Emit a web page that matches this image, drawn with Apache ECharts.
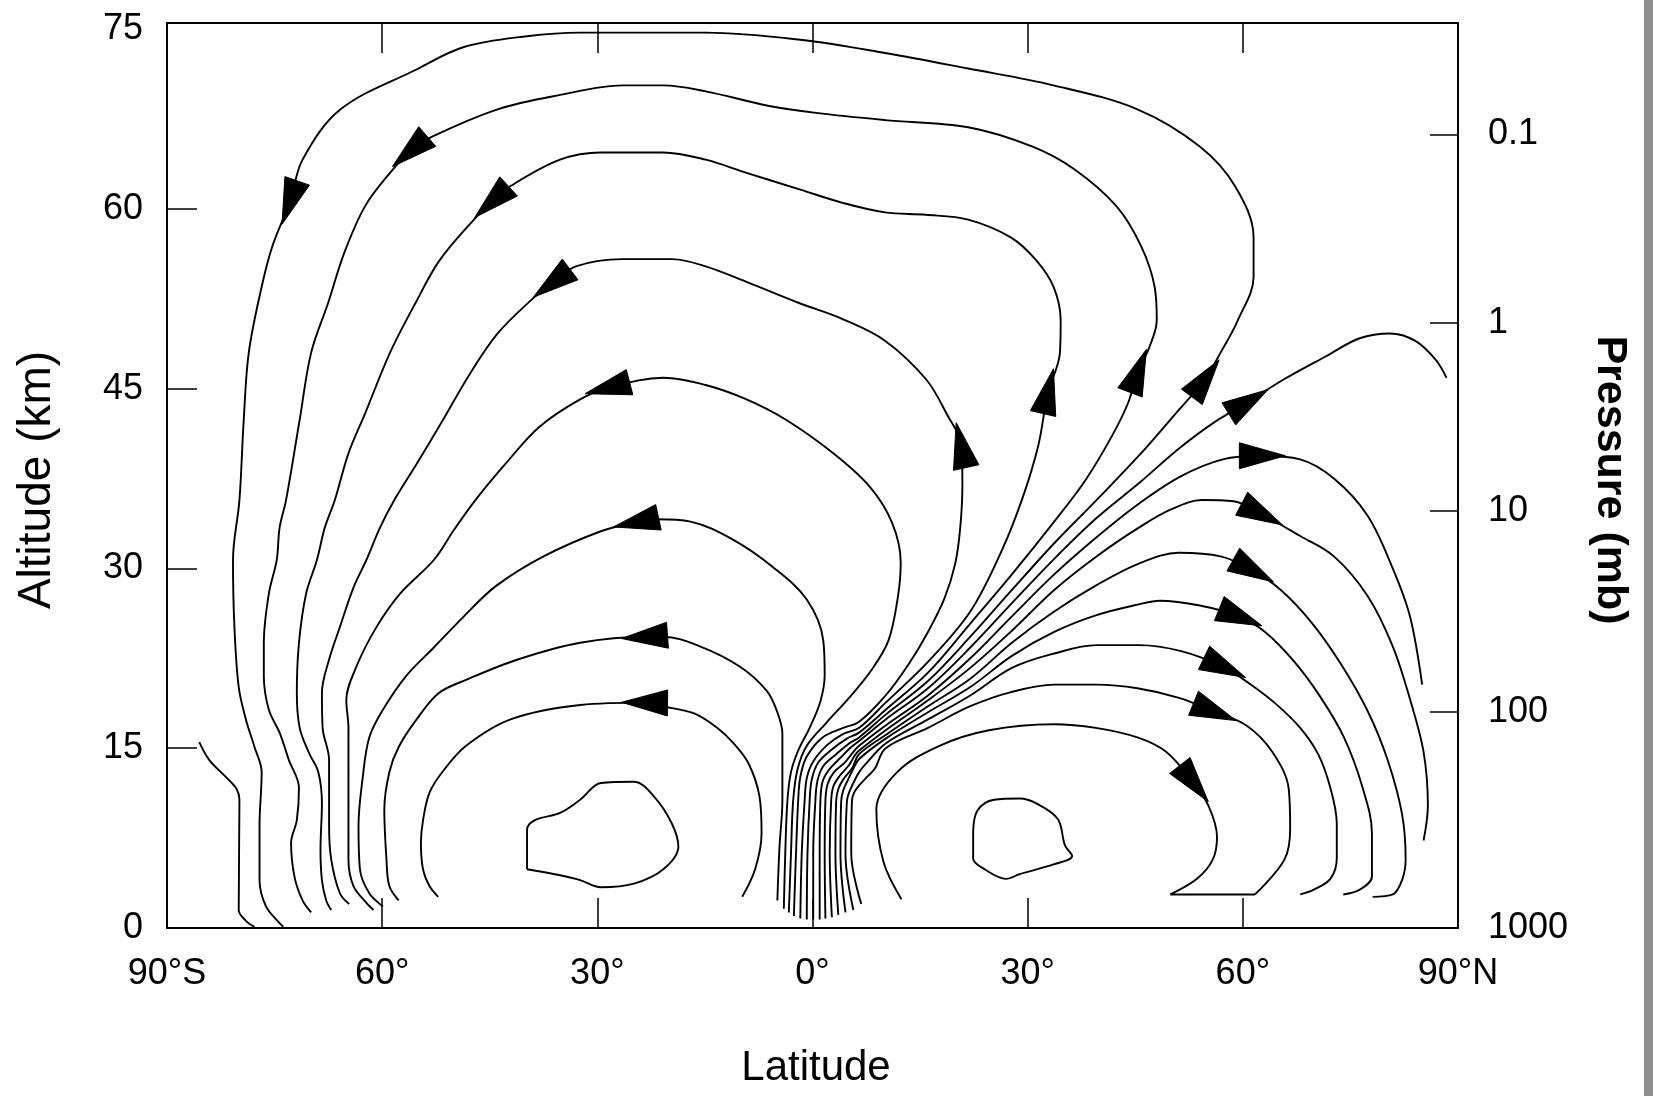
<!DOCTYPE html>
<html><head><meta charset="utf-8">
<script src="https://cdn.jsdelivr.net/npm/echarts/dist/echarts.min.js"></script>
<style>html,body{margin:0;padding:0;background:#fff}#c{width:1653px;height:1096px}</style>
</head><body><div id="c"></div>
<script>
// ---- axis data ----
const latTicks = [-90, -60, -30, 0, 30, 60, 90];
const latLabels = ['90°S', '60°', '30°', '0°', '30°', '60°', '90°N'];
const altTicks = [0, 15, 30, 45, 60, 75];
const altTickMarks = [0, 15, 30, 45, 60];
const pressureAlt = [0, 18.0, 34.8, 50.5, 66.2];
const pressureLabels = ['1000', '100', '10', '1', '0.1'];

// ---- streamlines [latitude, altitude km], in flow order ----
const lineS0 = [[-85.5,15.5],[-84.1,14.0],[-81.8,12.6],[-80.3,11.6],[-79.9,10.7],[-80.0,1.5],[-79.0,0.6],[-77.8,0.1]];
const lineA1 = [[0.1,0.7],[0.1,6.2],[0.4,10.6],[0.7,12.3],[1.5,13.5],[3.3,14.5],[5.1,15.4],[6.5,15.9],[10.2,17.8],[16.1,20.6],[22.0,24.3],[27.8,28.2],[33.7,32.1],[39.6,35.7],[45.5,39.4],[50.6,42.9],[54.6,45.7],[56.9,48.0],[59.3,50.7],[61.5,54.3],[61.5,57.6],[58.9,61.9],[54.0,65.2],[45.3,68.3],[33.6,70.3],[21.7,71.7],[10.1,73.0],[-1.7,74.1],[-14.9,74.7],[-32.4,74.7],[-39.8,74.4],[-48.6,73.5],[-55.3,71.6],[-65.8,68.3],[-71.1,64.1],[-72.8,60.7],[-75.3,56.9],[-76.8,53.5],[-78.6,48.0],[-79.3,42.4],[-79.9,35.7],[-80.8,30.7],[-80.6,25.1],[-80.0,20.1],[-79.0,17.4],[-77.8,15.1],[-76.8,13.0],[-77.1,8.5],[-77.1,4.0],[-76.2,1.8],[-74.3,0.4],[-73.8,0.1]];
const lineA2 = [[-0.8,0.7],[-0.7,6.2],[-0.4,10.6],[-0.1,12.4],[0.8,13.8],[2.7,14.9],[4.8,15.8],[6.5,16.3],[10.2,18.2],[16.1,21.3],[22.0,25.4],[27.8,29.5],[33.7,33.9],[38.1,37.4],[41.8,41.1],[44.0,43.8],[45.3,46.3],[47.0,48.5],[48.0,50.7],[47.7,53.5],[45.8,56.9],[42.4,60.2],[36.5,63.3],[30.6,65.2],[21.7,66.8],[10.1,67.4],[0.5,68.0],[-6.2,68.6],[-14.9,69.8],[-20.8,70.3],[-26.5,70.3],[-35.2,69.5],[-43.9,68.3],[-53.1,66.0],[-55.9,64.9],[-58.9,63.0],[-62.4,60.2],[-65.3,56.3],[-67.5,52.2],[-69.9,48.0],[-71.5,42.4],[-73.4,35.7],[-74.3,33.4],[-74.7,30.7],[-75.8,27.9],[-76.5,23.8],[-76.5,21.0],[-75.8,18.2],[-74.3,16.3],[-73.0,14.0],[-71.6,11.7],[-71.9,9.0],[-72.7,7.1],[-72.2,4.2],[-71.1,2.3],[-69.9,1.3]];
const lineA3 = [[-1.7,0.8],[-1.5,6.2],[-1.1,10.6],[-0.8,12.5],[0.1,13.9],[2.1,15.3],[4.3,16.2],[6.5,16.7],[10.2,18.8],[16.1,22.2],[22.0,26.4],[26.4,31.5],[29.3,35.9],[31.5,40.3],[32.8,44.6],[34.5,48.0],[34.6,50.7],[33.6,53.5],[31.2,55.7],[27.7,57.6],[21.7,59.1],[15.8,59.5],[10.1,59.7],[4.2,60.5],[-1.7,61.6],[-9.2,63.0],[-14.9,64.1],[-20.8,64.7],[-29.5,64.7],[-35.2,64.1],[-42.1,61.9],[-44.5,60.7],[-47.2,59.1],[-52.0,55.7],[-55.3,52.2],[-58.9,48.0],[-62.4,42.9],[-64.7,39.6],[-66.6,35.7],[-68.0,33.4],[-69.1,30.7],[-70.6,27.9],[-71.6,23.8],[-71.9,19.6],[-71.5,16.7],[-70.2,14.6],[-68.9,13.0],[-68.4,10.4],[-68.6,6.5],[-68.4,4.0],[-67.8,2.3],[-67.1,1.5]];
const lineA4 = [[-2.6,1.0],[-2.3,6.2],[-2.0,10.6],[-1.7,12.6],[-0.8,14.3],[1.4,15.9],[4.3,16.7],[6.5,17.2],[10.2,19.4],[13.4,22.0],[16.1,24.7],[18.4,27.5],[19.9,30.4],[20.6,33.4],[20.9,37.0],[20.8,40.1],[18.7,42.9],[15.8,45.8],[10.1,49.0],[4.2,50.8],[-1.7,52.1],[-9.2,53.9],[-14.9,55.2],[-19.6,55.8],[-26.5,55.8],[-33.0,55.2],[-36.1,53.9],[-39.2,52.4],[-43.9,49.6],[-47.8,46.2],[-51.8,42.1],[-55.2,38.7],[-58.3,35.7],[-60.3,33.4],[-62.2,30.7],[-64.0,28.4],[-65.9,25.1],[-67.4,22.4],[-68.4,19.6],[-68.3,16.7],[-67.4,14.0],[-67.4,8.5],[-67.1,5.7],[-65.9,2.9],[-64.6,2.0]];
const lineA5 = [[-3.3,1.3],[-3.0,6.2],[-2.7,10.6],[-2.1,13.2],[-0.8,15.2],[1.9,17.1],[5.1,19.2],[8.2,21.5],[10.6,24.0],[11.9,27.6],[12.3,30.5],[11.1,33.8],[8.0,36.8],[2.9,39.6],[-3.7,42.4],[-9.2,44.1],[-14.9,45.3],[-20.8,45.9],[-28.3,45.1],[-32.4,44.1],[-38.1,41.8],[-42.7,38.8],[-47.0,35.7],[-50.0,33.2],[-52.8,30.7],[-57.5,27.9],[-60.8,25.1],[-63.6,21.8],[-65.0,19.0],[-64.7,16.7],[-64.7,11.3],[-64.7,5.7],[-64.0,3.5],[-62.2,2.1],[-61.2,1.5]];
const lineA6 = [[-4.0,1.6],[-3.8,6.2],[-3.5,10.6],[-3.0,13.0],[-2.0,14.8],[-0.4,16.7],[1.1,18.9],[1.7,21.1],[1.5,24.0],[-0.8,27.4],[-5.5,30.1],[-11.1,32.4],[-17.0,33.9],[-21.7,34.1],[-24.3,33.9],[-29.5,33.1],[-37.5,31.0],[-44.2,28.5],[-48.6,26.0],[-52.8,23.4],[-56.7,21.0],[-59.9,18.2],[-61.8,15.9],[-62.7,12.6],[-63.3,8.5],[-63.1,4.9],[-61.8,2.9],[-59.9,1.8]];
const lineA7 = [[-4.9,2.3],[-4.6,6.8],[-4.2,10.6],[-4.2,14.9],[-4.2,16.2],[-4.9,18.0],[-6.4,19.8],[-10.1,21.8],[-15.7,23.5],[-20.8,24.3],[-23.1,24.3],[-32.4,23.8],[-41.1,22.4],[-48.3,20.7],[-52.1,19.6],[-55.2,17.4],[-57.7,15.1],[-59.0,13.0],[-59.7,9.9],[-59.4,5.7],[-59.0,3.5],[-57.7,2.3]];
const lineA8 = [[-9.8,2.6],[-8.0,4.9],[-7.1,7.9],[-7.4,11.0],[-8.9,13.7],[-11.0,15.4],[-13.3,16.7],[-16.5,17.9],[-20.9,18.5],[-23.1,18.8],[-32.4,18.6],[-42.1,17.4],[-48.3,15.2],[-51.5,13.1],[-53.4,11.3],[-54.3,9.0],[-54.6,7.1],[-54.3,4.9],[-53.4,3.5],[-52.2,2.6]];
const loopSouth = [[-39.8,4.9],[-39.8,8.2],[-38.7,9.0],[-35.2,9.6],[-32.4,10.7],[-29.5,12.1],[-24.9,12.2],[-22.0,10.9],[-19.6,8.7],[-18.7,6.8],[-20.8,4.9],[-24.9,3.7],[-29.5,3.4],[-32.4,4.0],[-35.2,4.4],[-39.8,4.9]];
const loopNorth = [[22.4,8.1],[23.0,9.8],[25.3,10.7],[28.9,10.8],[31.2,10.4],[34.2,9.1],[35.2,6.9],[36.2,6.0],[33.6,5.3],[28.9,4.5],[27.0,4.1],[24.0,4.9],[22.4,5.8],[22.4,8.1]];
const lineB1 = [[1.0,0.7],[1.0,6.2],[1.1,10.6],[1.4,12.2],[2.3,13.2],[3.9,14.2],[5.4,15.1],[6.5,15.6],[10.2,17.4],[16.1,20.0],[22.0,23.4],[27.8,27.1],[33.7,30.8],[39.6,34.2],[45.5,37.1],[51.1,40.0],[55.8,42.1],[60.5,43.8],[65.8,45.8],[71.6,47.7],[76.3,49.2],[80.5,49.6],[84.0,49.0],[86.9,47.4],[88.4,45.9]];
const lineB2 = [[1.8,0.8],[1.7,6.2],[1.8,10.6],[2.1,12.0],[3.0,13.0],[4.5,13.8],[5.7,14.7],[6.5,15.2],[10.2,16.9],[16.1,19.4],[22.0,22.5],[27.8,26.0],[33.7,29.5],[39.6,32.6],[45.5,35.4],[51.4,37.7],[57.2,39.1],[62.4,39.4],[68.0,39.1],[72.7,37.5],[77.4,34.4],[80.9,30.0],[83.3,26.0],[85.0,20.3]];
const lineB3 = [[2.7,0.9],[2.4,6.2],[2.6,10.6],[2.9,11.8],[3.8,12.7],[5.1,13.6],[5.9,14.4],[6.5,14.8],[10.2,16.5],[16.1,19.0],[22.0,21.7],[27.8,24.8],[33.7,28.2],[39.6,31.0],[45.5,33.4],[49.9,34.9],[54.3,35.7],[58.7,35.6],[62.4,34.6],[68.0,32.7],[72.7,31.0],[77.4,27.7],[80.9,23.5],[83.3,19.1],[85.2,14.7],[85.8,10.2],[85.2,7.3]];
const lineB4 = [[3.6,1.1],[3.2,6.2],[3.3,10.6],[3.6,11.6],[4.3,12.4],[5.5,13.3],[6.5,14.5],[10.2,16.1],[16.1,18.5],[22.0,20.8],[27.8,23.8],[33.7,26.4],[39.6,28.6],[45.5,30.4],[51.1,31.3],[56.9,31.0],[61.2,29.9],[65.3,28.2],[69.7,25.4],[73.7,22.0],[77.4,18.1],[80.2,14.0],[82.2,9.5],[82.7,5.7],[82.2,4.0],[80.9,2.8],[78.1,2.6]];
const lineB5 = [[4.6,1.3],[3.9,6.2],[4.0,10.6],[4.3,11.5],[4.9,12.3],[5.7,13.3],[6.5,14.1],[10.2,15.8],[16.1,18.0],[22.0,20.1],[27.8,22.7],[33.7,24.7],[39.6,26.1],[45.5,27.0],[48.4,27.3],[54.0,26.9],[59.4,26.0],[63.1,24.7],[67.2,22.2],[70.9,19.2],[74.1,15.9],[76.6,11.9],[78.0,7.9],[78.0,4.3],[76.3,3.2],[74.0,2.8]];
const lineB6 = [[5.7,1.5],[4.6,6.2],[4.8,10.6],[5.1,11.3],[5.7,12.1],[6.4,12.9],[7.3,13.6],[10.2,15.4],[16.1,17.4],[22.0,19.4],[27.8,21.7],[33.7,22.9],[39.6,23.6],[45.5,23.6],[51.4,23.1],[57.2,21.8],[60.9,20.4],[64.6,18.7],[68.0,16.7],[70.5,14.5],[72.2,11.7],[73.1,8.7],[73.1,5.8],[72.2,4.1],[69.9,3.2],[68.0,2.8]];
const lineB7 = [[6.8,2.0],[5.4,6.2],[5.5,10.6],[5.8,11.3],[6.5,11.9],[7.6,12.6],[8.7,13.3],[10.2,15.0],[16.1,16.7],[22.0,18.5],[27.8,19.7],[33.7,20.3],[39.6,20.3],[45.3,20.0],[51.1,19.2],[55.8,18.1],[60.5,16.9],[64.1,14.7],[66.4,11.6],[66.6,8.3],[65.8,5.7],[61.7,2.8]];
const lineB8 = [[12.4,2.4],[9.9,5.5],[8.9,9.9],[11.8,13.0],[17.7,15.2],[24.6,16.5],[33.6,17.0],[39.5,16.7],[45.3,15.9],[49.3,14.7],[53.0,12.2],[55.2,10.2],[56.4,7.6],[55.8,5.7],[53.6,4.1],[49.9,2.8],[55.8,2.8],[61.7,2.8]];

// ---- arrow heads: [line, latitude, altitude] ----
const arrowMarks = [
  ['A1',54.6,45.7],['A1',-72.8,60.7],['A2',45.3,46.3],['A2',-55.9,64.9],
  ['A3',32.8,44.6],['A3',-44.5,60.7],['A4',20.8,40.1],['A4',-36.1,53.9],
  ['A5',-28.3,45.1],['A6',-24.3,33.9],['A7',-23.1,24.3],['A8',-23.1,18.8],
  ['B1',60.5,43.8],['B2',62.4,39.4],['B3',62.4,34.6],['B4',61.2,29.9],
  ['B5',59.4,26.0],['B6',57.2,21.8],['B7',55.8,18.1],['B8',53.0,12.2]
];

const lines = {S0:lineS0,A1:lineA1,A2:lineA2,A3:lineA3,A4:lineA4,A5:lineA5,A6:lineA6,A7:lineA7,A8:lineA8,
  LS:loopSouth,LN:loopNorth,B1:lineB1,B2:lineB2,B3:lineB3,B4:lineB4,B5:lineB5,B6:lineB6,B7:lineB7,B8:lineB8};

function nearestIndex(arr, lat, alt) {
  let best = 0, bd = Infinity;
  arr.forEach((p, i) => { const d = (p[0]-lat)*(p[0]-lat)*0.5 + (p[1]-alt)*(p[1]-alt); if (d < bd) { bd = d; best = i; } });
  return best;
}
const arrowData = arrowMarks.map(([name, lat, alt]) => {
  const arr = lines[name]; const i = nearestIndex(arr, lat, alt);
  const a = arr[Math.max(i-1,0)], b = arr[Math.min(i+1,arr.length-1)];
  return [lat, alt, a[0], a[1], b[0], b[1]];
});

const FONT = '"Liberation Sans",Arial,sans-serif';
const lineSeries = Object.keys(lines).map(k => ({
  type: 'line', name: k, data: lines[k], showSymbol: false, smooth: 0.35, silent: true,
  xAxisIndex: 0, yAxisIndex: 0, lineStyle: { color: '#000', width: 1.9 }, z: 2
}));

const axisLineStyle = { show: true, onZero: false, lineStyle: { color: '#000', width: 2 } };
const chart = echarts.init(document.getElementById('c'), null, { renderer: 'canvas' });
chart.setOption({
  animation: false,
  backgroundColor: '#fff',
  grid: { left: 167, right: 195, top: 23, bottom: 168, containLabel: false },
  xAxis: [
    { type: 'value', min: -90, max: 90, interval: 30, position: 'bottom',
      axisLine: axisLineStyle,
      axisTick: { show: true, inside: true, length: 30, lineStyle: { color: '#000', width: 1.5 } },
      axisLabel: { margin: 28, color: '#000', fontSize: 36, fontFamily: FONT,
        formatter: v => { const i = latTicks.indexOf(v); return i >= 0 ? latLabels[i] : ''; } },
      splitLine: { show: false } },
    { type: 'value', min: -90, max: 90, interval: 30, position: 'top',
      axisLine: axisLineStyle,
      axisTick: { show: true, inside: true, length: 30, lineStyle: { color: '#000', width: 1.5 } },
      axisLabel: { show: false }, splitLine: { show: false } }
  ],
  yAxis: [
    { type: 'value', min: 0, max: 75.5, position: 'left',
      axisLine: axisLineStyle,
      axisTick: { show: true, inside: true, length: 30, customValues: altTickMarks, lineStyle: { color: '#000', width: 1.5 } },
      axisLabel: { margin: 24, color: '#000', fontSize: 36, fontFamily: FONT, customValues: altTicks, formatter: v => String(v) },
      splitLine: { show: false } },
    { type: 'value', min: 0, max: 75.5, position: 'right',
      axisLine: axisLineStyle,
      axisTick: { show: true, inside: true, length: 28, customValues: pressureAlt, lineStyle: { color: '#000', width: 1.5 } },
      axisLabel: { margin: 30, color: '#000', fontSize: 36, fontFamily: FONT, customValues: pressureAlt,
        formatter: v => { const i = pressureAlt.indexOf(v); return i >= 0 ? pressureLabels[i] : ''; } },
      splitLine: { show: false } }
  ],
  graphic: [
    { type: 'text', x: 37, y: 480, rotation: Math.PI / 2,
      style: { text: 'Altitude (km)', fontSize: 46, fontFamily: FONT, fill: '#000', align: 'center', verticalAlign: 'middle' } },
    { type: 'text', x: 1610, y: 480, rotation: -Math.PI / 2,
      style: { text: 'Pressure (mb)', fontSize: 43, fontWeight: 'bold', fontFamily: FONT, fill: '#000', align: 'center', verticalAlign: 'middle' } },
    { type: 'text', x: 816, y: 1068,
      style: { text: 'Latitude', fontSize: 42, fontFamily: FONT, fill: '#000', align: 'center', verticalAlign: 'middle' } },
    { type: 'rect', shape: { x: 1644, y: 0, width: 9, height: 1096 }, style: { fill: '#8e8e8e' } }
  ],
  series: lineSeries.concat([{
    type: 'custom', name: 'arrows', data: arrowData, silent: true, clip: false, z: 5,
    encode: { x: 0, y: 1 },
    renderItem: function (params, api) {
      const p = api.coord([api.value(0), api.value(1)]);
      const a = api.coord([api.value(2), api.value(3)]);
      const b = api.coord([api.value(4), api.value(5)]);
      let dx = b[0] - a[0], dy = b[1] - a[1];
      const len = Math.hypot(dx, dy) || 1; dx /= len; dy /= len;
      const nx = -dy, ny = dx, L = 46, W = 26;
      const tip = [p[0] + dx * L * 0.55, p[1] + dy * L * 0.55];
      const bc = [p[0] - dx * L * 0.45, p[1] - dy * L * 0.45];
      return { type: 'polygon',
        shape: { points: [tip, [bc[0] + nx * W / 2, bc[1] + ny * W / 2], [bc[0] - nx * W / 2, bc[1] - ny * W / 2]] },
        style: { fill: '#000', stroke: '#000', lineWidth: 1 } };
    }
  }])
});
</script>
</body></html>
